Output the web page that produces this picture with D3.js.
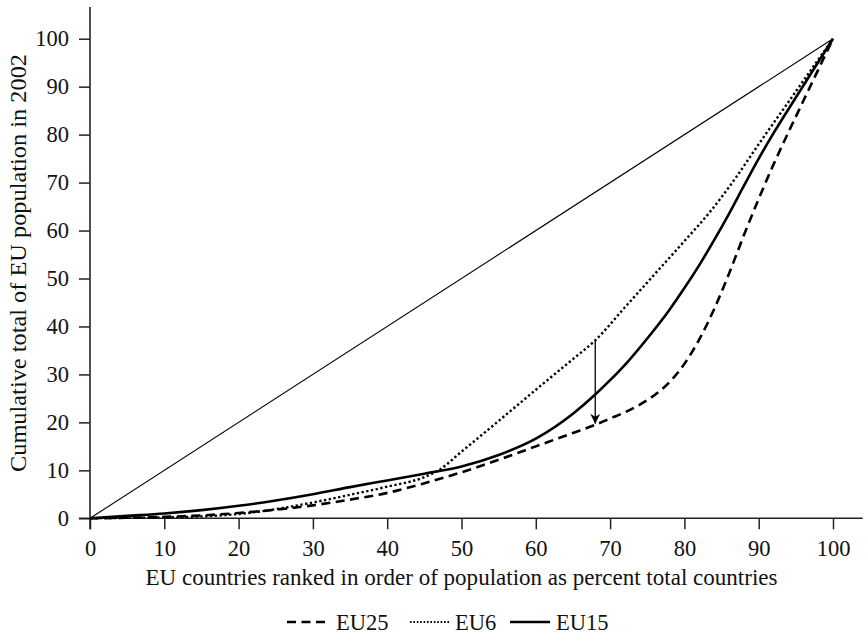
<!DOCTYPE html>
<html>
<head>
<meta charset="utf-8">
<script src="https://cdn.jsdelivr.net/npm/d3@7"></script>
<style>
  body { margin: 0; background: #fff; }
  svg { display: block; }
  text { font-family: "Liberation Serif", "DejaVu Serif", serif; fill: #111; }
</style>
</head>
<body>
<svg id="chart"></svg>
<script>
const WIDTH = 865;
const HEIGHT = 639;

// x = EU countries ranked by population (% of countries), y = cumulative % of population
const eu25X = [0, 5, 10, 15, 20, 25, 30, 35, 40, 45, 50, 55, 60, 65, 68, 70, 72, 74, 76, 78, 80, 82, 84, 86, 88, 90, 92, 94, 96, 98, 100];
const eu25Y = [0, 0.1, 0.3, 0.6, 1.1, 1.8, 2.7, 3.9, 5.3, 7.3, 9.6, 12.2, 15.0, 17.8, 19.5, 20.8, 22.1, 23.7, 25.7, 28.4, 32.2, 37.3, 43.6, 51.0, 59.0, 66.6, 73.8, 80.5, 87.0, 93.5, 100];

const eu6X = [0, 5, 10, 15, 20, 25, 30, 35, 40, 45, 47, 50, 55, 60, 65, 68, 72, 76, 80, 83.5, 87, 90, 94, 97, 100];
const eu6Y = [0, 0.1, 0.2, 0.4, 0.9, 1.9, 3.3, 4.9, 6.6, 8.6, 10.1, 13.9, 20.3, 26.8, 33.2, 37.1, 44.0, 50.9, 57.8, 64.0, 71.2, 78.0, 86.8, 93.4, 100];

const eu15X = [0, 5, 10, 15, 20, 25, 30, 35, 40, 45, 50, 55, 60, 65, 68, 70, 72, 75, 78, 80, 82, 84, 86, 88, 90, 92, 94, 96, 98, 100];
const eu15Y = [0, 0.5, 1.0, 1.7, 2.6, 3.7, 5.0, 6.5, 7.9, 9.3, 10.8, 13.2, 16.6, 21.8, 25.8, 28.8, 32.0, 37.5, 43.5, 48.0, 52.8, 58.0, 63.5, 69.3, 75.0, 80.3, 85.3, 90.2, 95.1, 100];

const equalityX = [0, 100];
const equalityY = [0, 100];

const arrowX = 68;
const arrowFrom = 37;
const arrowTo = 19.5;

const xTicks = [0, 10, 20, 30, 40, 50, 60, 70, 80, 90, 100];
const yTicks = [0, 10, 20, 30, 40, 50, 60, 70, 80, 90, 100];

const xTitle = "EU countries ranked in order of population as percent total countries";
const yTitle = "Cumulative total of EU population in 2002";

const legendNames = ["EU25", "EU6", "EU15"];

const svg = d3.select("#chart").attr("width", WIDTH).attr("height", HEIGHT);

const x = d3.scaleLinear().domain([0, 100]).range([90, 833]);
const y = d3.scaleLinear().domain([0, 100]).range([518.3, 38.7]);

const styles = {
  EU25: { width: 2.6, dash: "9,5.5", cap: "butt" },
  EU6: { width: 2.4, dash: "2.3,2.5", cap: "butt" },
  EU15: { width: 2.6, dash: null, cap: "butt" },
};

// axes
const axisX = d3.axisBottom(x).tickValues(xTicks).tickSize(11).tickSizeOuter(0).tickPadding(11);
const axisY = d3.axisLeft(y).tickValues(yTicks).tickSize(11).tickSizeOuter(0).tickPadding(10);

const gx = svg.append("g").attr("transform", `translate(0, ${y(0)})`).call(axisX);
const gy = svg.append("g").attr("transform", `translate(${x(0)}, 0)`).call(axisY);

[gx, gy].forEach((g) => {
  g.select(".domain").remove();
  g.selectAll(".tick line").attr("stroke", "#222").attr("stroke-width", 1.5);
  g.selectAll(".tick text")
    .style("font-family", '"Liberation Serif", serif')
    .style("font-size", "22.5px")
    .attr("fill", "#111");
});

svg.append("line")
  .attr("x1", x(0) - 11).attr("x2", x(104))
  .attr("y1", y(0)).attr("y2", y(0))
  .attr("stroke", "#222").attr("stroke-width", 1.6);
svg.append("line")
  .attr("x1", x(0)).attr("x2", x(0))
  .attr("y1", y(0) + 11).attr("y2", y(106.6))
  .attr("stroke", "#222").attr("stroke-width", 1.6);

svg.append("text")
  .attr("x", (x(0) + x(100)) / 2)
  .attr("y", 585)
  .attr("text-anchor", "middle")
  .attr("textLength", 632)
  .attr("lengthAdjust", "spacingAndGlyphs")
  .style("font-size", "22.5px")
  .text(xTitle);

svg.append("text")
  .attr("transform", `translate(26, 263) rotate(-90)`)
  .attr("text-anchor", "middle")
  .attr("textLength", 418)
  .attr("lengthAdjust", "spacingAndGlyphs")
  .style("font-size", "22.5px")
  .text(yTitle);

// lines
const lineF = d3.line()
  .x((d) => x(d[0]))
  .y((d) => y(d[1]))
  .curve(d3.curveMonotoneX);

svg.append("path")
  .datum(d3.zip(equalityX, equalityY))
  .attr("d", d3.line().x((d) => x(d[0])).y((d) => y(d[1])))
  .attr("fill", "none")
  .attr("stroke", "#000")
  .attr("stroke-width", 1.1);

const series = [
  { name: "EU6", xs: eu6X, ys: eu6Y },
  { name: "EU25", xs: eu25X, ys: eu25Y },
  { name: "EU15", xs: eu15X, ys: eu15Y },
];

series.forEach((s) => {
  const st = styles[s.name];
  svg.append("path")
    .datum(d3.zip(s.xs, s.ys))
    .attr("d", lineF)
    .attr("fill", "none")
    .attr("stroke", "#000")
    .attr("stroke-width", st.width)
    .attr("stroke-linecap", st.cap)
    .attr("stroke-dasharray", st.dash);
});

// arrow
svg.append("defs").append("marker")
  .attr("id", "arrowHead")
  .attr("viewBox", "0 0 10 10")
  .attr("refX", 10).attr("refY", 5)
  .attr("markerWidth", 11).attr("markerHeight", 10)
  .attr("markerUnits", "userSpaceOnUse")
  .attr("orient", "auto")
  .append("path")
  .attr("d", "M0,0 L10,5 L0,10 L3,5 Z")
  .attr("fill", "#000");

svg.append("line")
  .attr("x1", x(arrowX)).attr("x2", x(arrowX))
  .attr("y1", y(arrowFrom)).attr("y2", y(arrowTo) - 1)
  .attr("stroke", "#000")
  .attr("stroke-width", 1.3)
  .attr("marker-end", "url(#arrowHead)");

// legend
const legendItems = [
  { name: "EU25", x0: 287, x1: 330 },
  { name: "EU6", x0: 410, x1: 449 },
  { name: "EU15", x0: 510, x1: 550 },
];
const legendY = 622;

legendItems.forEach((item, i) => {
  const st = styles[legendNames[i]];
  svg.append("line")
    .attr("x1", item.x0).attr("x2", item.x1)
    .attr("y1", legendY).attr("y2", legendY)
    .attr("stroke", "#000")
    .attr("stroke-width", legendNames[i] == "EU6" ? 1.8 : st.width)
    .attr("stroke-linecap", st.cap)
    .attr("stroke-dasharray", legendNames[i] == "EU6" ? "1.6,1.8" : st.dash);
  svg.append("text")
    .attr("x", item.x1 + 6)
    .attr("y", legendY + 8)
    .style("font-size", "22.5px")
    .text(legendNames[i]);
});
</script>
</body>
</html>
